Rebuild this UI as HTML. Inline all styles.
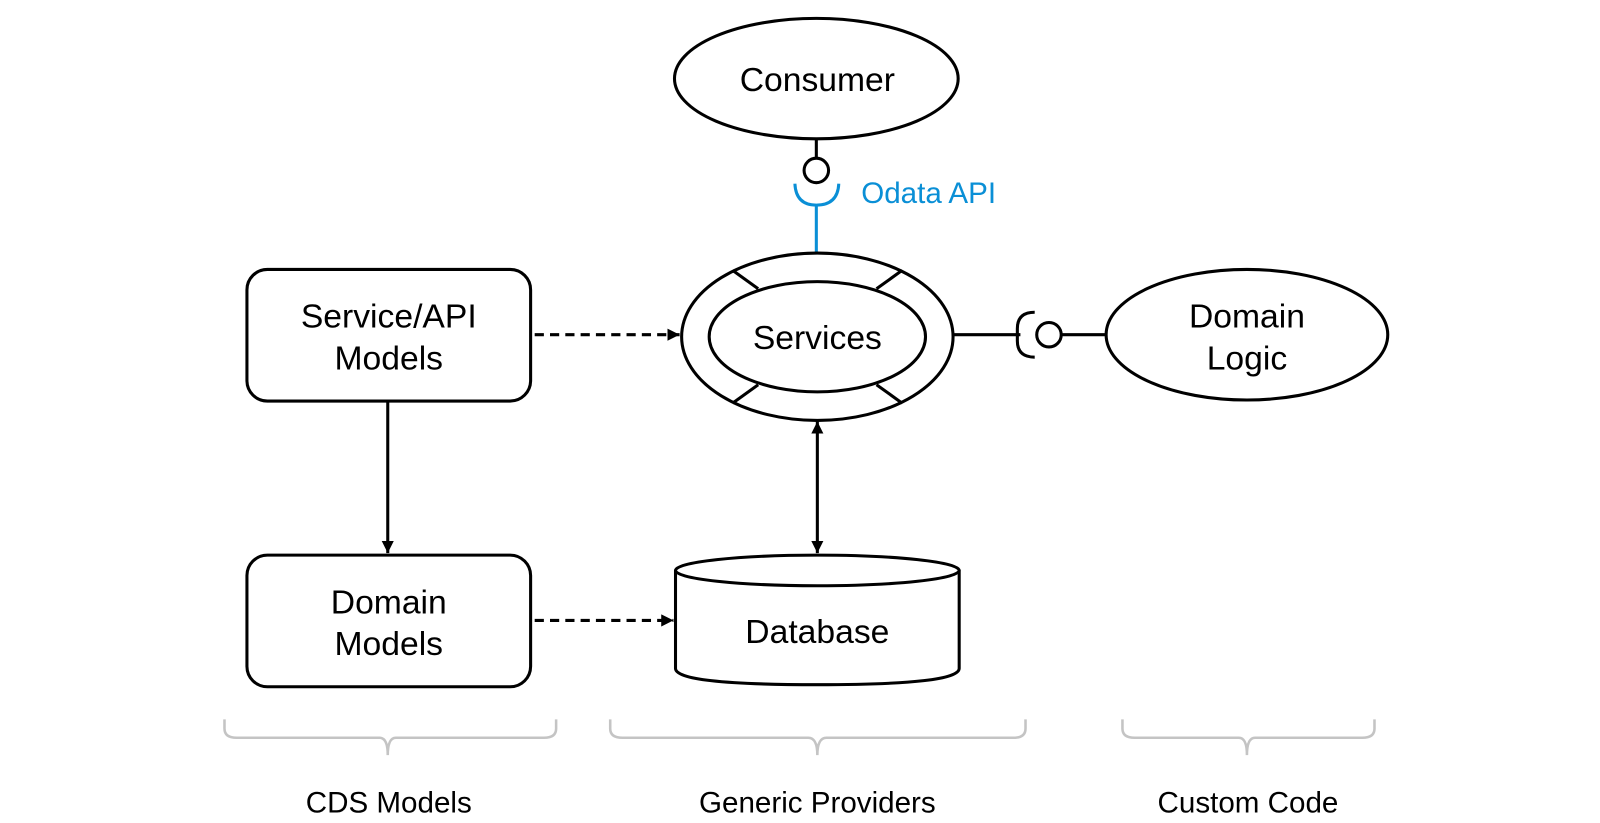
<!DOCTYPE html>
<html><head><meta charset="utf-8"><style>
html,body{margin:0;padding:0;background:#fff;width:1600px;height:823px;overflow:hidden}
svg{display:block}
text{font-family:"Liberation Sans",Arial,sans-serif;fill:#000}
</style></head><body>
<svg width="1600" height="823" viewBox="0 0 1568 806.5" xmlns="http://www.w3.org/2000/svg">
<defs>
<marker id="ah" viewBox="0 0 10 10" refX="10" refY="5" markerWidth="4" markerHeight="4" orient="auto-start-reverse"><path d="M0,0 L10,5 L0,10 z" fill="#000"/></marker>
</defs>
<g fill="none" stroke="#000" stroke-width="3">
<ellipse cx="800" cy="77" rx="139" ry="59" fill="#fff"/>
<line x1="800" y1="136" x2="800" y2="155"/>
<circle cx="800" cy="167" r="12" fill="#fff"/>
<path d="M779,180 Q780,201 800,201 Q821,201 822,180" stroke="#0a8fd6"/>
<line x1="800" y1="201" x2="800" y2="248" stroke="#0a8fd6"/>
<ellipse cx="801" cy="330" rx="133" ry="82" fill="#fff"/>
<ellipse cx="801" cy="330" rx="106" ry="54"/>
<line x1="718" y1="265" x2="743" y2="283"/>
<line x1="884" y1="265" x2="859" y2="283"/>
<line x1="718" y1="395" x2="743" y2="377"/>
<line x1="884" y1="395" x2="859" y2="377"/>
<line x1="934" y1="328" x2="1000" y2="328"/>
<path d="M1014,306 Q997,306 997,322 L997,334 Q997,350 1014,350"/>
<circle cx="1028" cy="328" r="12" fill="#fff"/>
<line x1="1040" y1="328" x2="1085" y2="328"/>
<ellipse cx="1222" cy="328" rx="138" ry="64" fill="#fff"/>
<rect x="242" y="264" width="278" height="129" rx="20" fill="#fff"/>
<rect x="242" y="544" width="278" height="129" rx="20" fill="#fff"/>
<line x1="524" y1="328" x2="666" y2="328" stroke-dasharray="9,6" marker-end="url(#ah)"/>
<line x1="524" y1="608" x2="660" y2="608" stroke-dasharray="9,6" marker-end="url(#ah)"/>
<line x1="380" y1="393" x2="380" y2="542" marker-end="url(#ah)"/>
<line x1="801" y1="413" x2="801" y2="542" marker-start="url(#ah)" marker-end="url(#ah)"/>
<path d="M662,559 L662,655 Q662,671 801,671 Q940,671 940,655 L940,559" fill="#fff"/>
<ellipse cx="801" cy="559" rx="139" ry="15" fill="#fff"/>
</g>
<g fill="none" stroke="#c4c4c4" stroke-width="2.5">
<path d="M220,705 L220,714 Q220,723 232,723 L372,723 Q380,723 380,740 Q380,723 388,723 L533,723 Q545,723 545,714 L545,705"/>
<path d="M598,705 L598,714 Q598,723 610,723 L792,723 Q801,723 801,740 Q801,723 810,723 L993,723 Q1005,723 1005,714 L1005,705"/>
<path d="M1100,705 L1100,714 Q1100,723 1112,723 L1214,723 Q1222,723 1222,740 Q1222,723 1230,723 L1335,723 Q1347,723 1347,714 L1347,705"/>
</g>
<g font-size="33" text-anchor="middle">
<text x="801" y="89">Consumer</text>
<text x="801" y="342">Services</text>
<text x="1222" y="321">Domain</text>
<text x="1222" y="362">Logic</text>
<text x="381" y="321">Service/API</text>
<text x="381" y="362">Models</text>
<text x="381" y="601">Domain</text>
<text x="381" y="642">Models</text>
<text x="801" y="630">Database</text>
</g>
<text x="844" y="199" font-size="29" style="fill:#0a8fd6">Odata API</text>
<g font-size="29" text-anchor="middle">
<text x="381" y="796">CDS Models</text>
<text x="801" y="796">Generic Providers</text>
<text x="1223" y="796">Custom Code</text>
</g>
</svg>
</body></html>
